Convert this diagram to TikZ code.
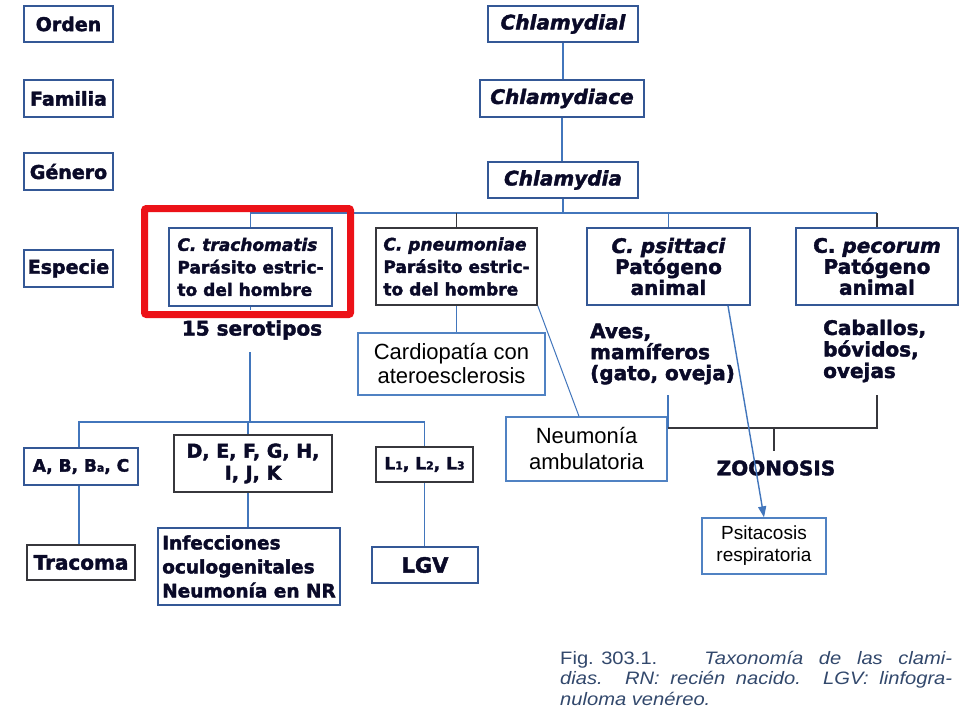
\documentclass[tikz,border=0pt]{standalone}
\usepackage{fontspec}
\usepackage{graphicx}
\setmainfont{Liberation Sans}
\newfontfamily\hv{DejaVu Sans Bold}[FakeBold=2, ItalicFont={DejaVu Sans Bold Oblique}, ItalicFeatures={FakeBold=2}]
\usetikzlibrary{arrows.meta}
\newcommand\fsz[2]{\fontsize{#1}{#2}\selectfont}
\newcommand\sbs[1]{{\fsz{11}{11}#1}}
\definecolor{txtc}{RGB}{10,10,40}
\definecolor{boxblue}{RGB}{52,88,150}
\definecolor{lineblue}{RGB}{66,118,188}
\definecolor{lightbox}{RGB}{80,130,195}
\definecolor{darkline}{RGB}{55,55,60}
\definecolor{capcol}{RGB}{50,72,108}
\definecolor{redbox}{RGB}{236,18,24}
\tikzset{
  box/.style={draw=boxblue, line width=1.5pt, inner sep=0pt, text=txtc, font=\hv},
  dbox/.style={box, draw=darkline},
  lbox/.style={draw=lightbox, line width=1.3pt, inner sep=0pt, text=black},
  conn/.style={draw=lineblue, line width=1.6pt},
  dconn/.style={draw=darkline, line width=1.6pt},
  thin/.style={draw=lineblue, line width=1pt},
  plain/.style={inner sep=0pt, text=txtc, font=\hv},
}
\begin{document}
\begin{tikzpicture}[x=1pt,y=-1pt]
\useasboundingbox[fill=white] (0,0) rectangle (960,720);

% rank labels
\node[box, minimum width=89pt, minimum height=36pt, font=\hv\fsz{19}{19}] (orden) at (68.5,24) {Orden};
\node[box, minimum width=89pt, minimum height=37pt, font=\hv\fsz{19}{19}] (familia) at (68.5,98.5) {Familia};
\node[box, minimum width=89pt, minimum height=37pt, font=\hv\fsz{19}{19}] (genero) at (68.5,171.5) {Género};
\node[box, minimum width=89pt, minimum height=37pt, font=\hv\fsz{19}{19}] (especie) at (68.5,268.5) {Especie};

% taxonomy
\node[box, minimum width=150pt, minimum height=36pt, font=\hv\itshape\fsz{20}{20}] (cl1) at (563,24) {Chlamydial};
\node[box, minimum width=164pt, minimum height=37pt, font=\hv\itshape\fsz{20}{20}] (cl2) at (562,98.5) {Chlamydiace};
\node[box, minimum width=150pt, minimum height=36pt, font=\hv\itshape\fsz{20}{20}] (cl3) at (563,180) {Chlamydia};

% species
\node[box, minimum width=163pt, minimum height=78pt, align=left, font=\hv\fsz{17}{22.5}] (trach) at (250.5,267) {\textit{C. trachomatis}\\Parásito estric-\\to del hombre};
\node[dbox, minimum width=161pt, minimum height=77pt, align=left, font=\hv\fsz{17}{22.5}] (pneu) at (456.5,266.5) {\textit{C. pneumoniae}\\Parásito estric-\\to del hombre};
\node[box, minimum width=163pt, minimum height=77pt, align=center, font=\hv\fsz{20}{21}] (psit) at (668.5,266.5) {\textit{C. psittaci}\\Patógeno\\animal};
\node[box, minimum width=162pt, minimum height=77pt, align=center, font=\hv\fsz{20}{21}] (peco) at (877,266.5) {C. \textit{pecorum}\\Patógeno\\animal};

\coordinate (bar) at (0,213);
\coordinate (bar2) at (0,422);

\draw[conn] (cl1.south) -- (cl1.south |- cl2.north);
\draw[conn] (cl2.south) -- (cl2.south |- cl3.north);
\draw[conn] (cl3.south) -- (cl3.south |- bar);
\draw[conn] (trach.north) -- (trach.north |- bar) -- (peco.north |- bar);
\draw[dconn] (pneu.north |- bar) -- (pneu.north);
\draw[conn] (psit.north |- bar) -- (psit.north);
\draw[dconn] (peco.north |- bar) -- (peco.north);

% pneumoniae consequences
\node[lbox, minimum width=187pt, minimum height=62pt, align=center, font=\fsz{22}{24}] (cardio) at (451.5,364) {Cardiopatía con\\ateroesclerosis};
\node[lbox, minimum width=161pt, minimum height=64pt, align=center, font=\fsz{22}{26}] (neum) at (586.5,449) {Neumonía\\ambulatoria};
\draw[thin, line width=1.3pt] (pneu.south) -- (pneu.south |- cardio.north);
\draw[thin] (pneu.south east) -- ([xshift=-7.5pt]neum.north);

% animal hosts
\node[plain, anchor=west, align=left, font=\hv\fsz{20}{21}] (aves) at (590,354) {Aves,\\mamíferos\\(gato, oveja)};
\node[plain, anchor=west, align=left, font=\hv\fsz{20}{21.5}] (caba) at (823,351) {Caballos,\\bóvidos,\\ovejas};
\coordinate (bl) at (668,395);
\coordinate (br) at (877,395);
\coordinate (zt) at (774,428);
\coordinate (ztb) at (774,451);
\draw[conn] (bl) -- (bl |- zt);
\draw[dconn] (bl |- zt) -- (zt) -| (br);
\draw[dconn] (zt) -- (ztb);
\node[plain, font=\hv\fsz{20}{20}] (zoon) at (776,468) {ZOONOSIS};

\node[lbox, minimum width=124pt, minimum height=56pt, align=center, font=\fsz{19}{22}] (psitac) at (764,546) {Psitacosis\\respiratoria};
\draw[thin, line width=1.4pt, -{Triangle[length=11pt,width=8pt]}] ([xshift=59.5pt]psit.south) -- (psitac.north);

% trachomatis serotypes
\node[plain, minimum height=40pt, font=\hv\fsz{20}{20}] (serot) at (252,330) {15 serotipos};
\draw[conn] (trach.south) -- (trach.south |- serot.north);
\coordinate (trunk) at (250,352);
\draw[conn] (trunk) -- (trunk |- bar2);

\node[box, minimum width=114pt, minimum height=37pt, font=\hv\fsz{17}{17}] (abc) at (81,466.5) {A, B, B\sbs{a}, C};
\node[dbox, minimum width=158pt, minimum height=57pt, align=center, font=\hv\fsz{19}{22}] (dek) at (253,463.5) {D, E, F, G, H,\\I, J, K};
\node[dbox, minimum width=97pt, minimum height=35pt, font=\hv\fsz{17}{17}] (lll) at (424.5,464.5) {L\sbs{1}, L\sbs{2}, L\sbs{3}};

\draw[conn] ([xshift=-2pt]abc.north) -- ([xshift=-2pt]abc.north |- bar2) -- (lll.north |- bar2) -- (lll.north);
\draw[conn] ([xshift=-5pt]dek.north |- bar2) -- ([xshift=-5pt]dek.north);

\node[dbox, minimum width=108pt, minimum height=35pt, font=\hv\fsz{20}{20}] (traco) at (81,562.5) {Tracoma};
\node[box, minimum width=182pt, minimum height=77pt, align=left, font=\hv\fsz{18.5}{24}] (infec) at (249,566.5) {Infecciones\\oculogenitales\\Neumonía en NR};
\node[box, minimum width=106pt, minimum height=36pt, font=\hv\fsz{21}{21}] (lgv) at (425,565) {LGV};

\draw[conn] ([xshift=-2pt]abc.south) -- ([xshift=-2pt]abc.south |- traco.north);
\draw[conn] ([xshift=-5pt]dek.south) -- ([xshift=-5pt]dek.south |- infec.north);
\draw[conn] (lll.south) -- (lll.south |- lgv.north);

% highlight
\draw[redbox, line width=7pt, rounded corners=2pt] (144.5,208.5) rectangle (350.5,314.5);

% caption
\node[anchor=north west, inner sep=0pt, text=capcol, font=\fsz{18}{20.5}] (cap) at (560,651) {\scalebox{1.12}[1]{\parbox[t]{350pt}{%
\makebox[350pt][s]{\hbox{Fig. 303.1.}\hspace{42pt}\textit{Taxonomía de las clami-}}\\
\makebox[350pt][s]{\textit{dias. RN: recién nacido. LGV: linfogra-}}\\
\textit{nuloma venéreo.}}}};
\end{tikzpicture}
\end{document}
